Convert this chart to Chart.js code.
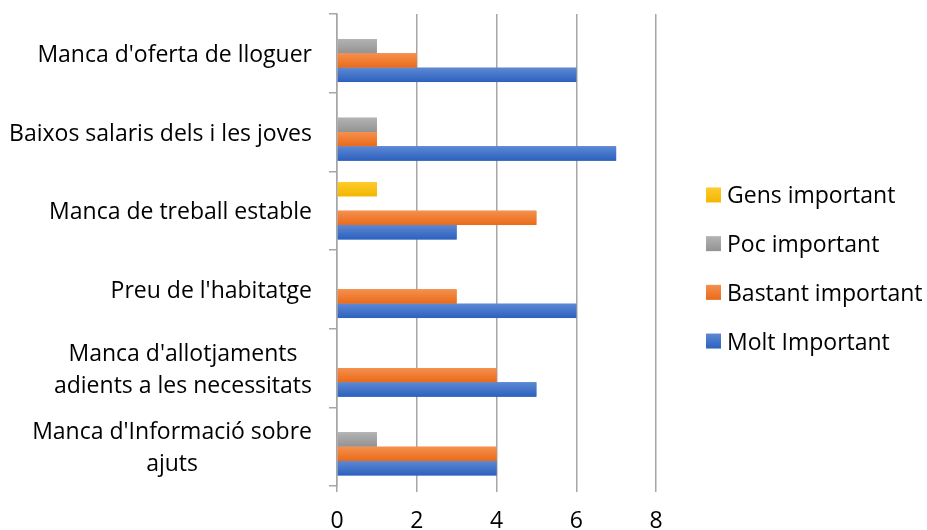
<!DOCTYPE html>
<html>
<head>
<meta charset="utf-8">
<script src="https://cdn.jsdelivr.net/npm/chart.js@4"></script>
<style>
  html, body { margin: 0; padding: 0; background: #fff; }
  #grafico { width: 927px; height: 530px; }
</style>
</head>
<body>
<div id="grafico"><canvas id="grafico_motius"></canvas></div>
<script>
const categories = [
    "Manca d'oferta de lloguer",
    "Baixos salaris dels i les joves",
    "Manca de treball estable",
    "Preu de l'habitatge",
    ["Manca d'allotjaments", "adients a les necessitats"],
    ["Manca d'Informació sobre", "ajuts"]
]
const gensImportant = [0, 0, 1, 0, 0, 0]
const pocImportant = [1, 1, 0, 0, 0, 1]
const bastantImportant = [2, 1, 5, 3, 4, 4]
const moltImportant = [6, 7, 3, 6, 5, 4]
const ticksX = [0, 2, 4, 6, 8]

const font = '"Open Sans"'
const mida = 23

// colors del degradat de cada serie (dalt, baix)
const degradats = [
    ['#FFCB2E', '#F2B700'],
    ['#B3B3B3', '#939393'],
    ['#F5904F', '#EA6A18'],
    ['#5D88D4', '#2C61BE']
]

// pinta el degradat vertical de cada barra
const pluginDegradat = {
    id: 'degradat',
    afterDatasetsDraw(chart) {
        const ctx = chart.ctx
        chart.data.datasets.forEach((ds, i) => {
            const meta = chart.getDatasetMeta(i)
            meta.data.forEach(bar => {
                const { x, y, base, height } = bar.getProps(['x', 'y', 'base', 'height'], true)
                if (x - base < 0.5) return
                const g = ctx.createLinearGradient(0, y - height / 2, 0, y + height / 2)
                g.addColorStop(0, degradats[i][0])
                g.addColorStop(1, degradats[i][1])
                ctx.save()
                ctx.fillStyle = g
                ctx.fillRect(base, y - height / 2, x - base, height)
                ctx.restore()
            })
        })
    }
}

// etiquetes de categoria: bloc alineat a la dreta, linies centrades entre elles
const pluginEtiquetes = {
    id: 'etiquetes',
    afterDraw(chart) {
        const ctx = chart.ctx
        const escala = chart.scales.y
        const dreta = chart.chartArea.left - 25
        const interlinia = 32
        ctx.save()
        ctx.font = `${mida}px ${font}`
        ctx.fillStyle = '#000'
        ctx.textAlign = 'center'
        ctx.textBaseline = 'middle'
        chart.data.labels.forEach((label, i) => {
            const linies = Array.isArray(label) ? label : [label]
            const ample = Math.max(...linies.map(l => ctx.measureText(l).width))
            const yc = escala.getPixelForValue(i) + 2
            linies.forEach((l, j) => {
                ctx.fillText(l, dreta - ample / 2, yc + (j - (linies.length - 1) / 2) * interlinia)
            })
        })
        ctx.restore()
    }
}

// llegenda a la dreta
const pluginLlegenda = {
    id: 'llegenda',
    afterDraw(chart) {
        const ctx = chart.ctx
        const x0 = chart.chartArea.right + 50
        const mig = chart.height / 2 + 3
        const pas = 48.7
        const n = chart.data.datasets.length
        ctx.save()
        ctx.font = `${mida}px ${font}`
        ctx.textBaseline = 'middle'
        chart.data.datasets.forEach((ds, i) => {
            const yc = mig + (i - (n - 1) / 2) * pas
            const g = ctx.createLinearGradient(0, yc - 7.5, 0, yc + 7.5)
            g.addColorStop(0, degradats[i][0])
            g.addColorStop(1, degradats[i][1])
            ctx.fillStyle = g
            ctx.fillRect(x0, yc - 7.5, 15, 15)
            ctx.fillStyle = '#000'
            ctx.fillText(ds.label, x0 + 21, yc + 2)
        })
        ctx.restore()
    }
}

let graficoMotius = new Chart(
    document.getElementById('grafico_motius'),
    {
        type: 'bar',
        data: {
            labels: categories,
            datasets: [
                { label: 'Gens important', data: gensImportant, backgroundColor: '#FFC000' },
                { label: 'Poc important', data: pocImportant, backgroundColor: '#A5A5A5' },
                { label: 'Bastant important', data: bastantImportant, backgroundColor: '#ED7D31' },
                { label: 'Molt Important', data: moltImportant, backgroundColor: '#4472C4' }
            ]
        },
        options: {
            indexAxis: 'y',
            responsive: true,
            maintainAspectRatio: false,
            animation: false,
            categoryPercentage: 0.73,
            barPercentage: 1,
            layout: {
                padding: { top: 14, right: 271, left: 0, bottom: 0 }
            },
            scales: {
                x: {
                    min: 0,
                    max: 8,
                    afterBuildTicks: scale => {
                        scale.ticks = ticksX.map(v => ({ value: v }))
                    },
                    afterFit: scale => {
                        scale.height = 44
                    },
                    border: { display: false },
                    grid: {
                        color: '#A6A6A6',
                        lineWidth: 1.5,
                        drawTicks: true,
                        tickLength: 6
                    },
                    ticks: {
                        color: '#000',
                        padding: 16,
                        font: { family: font, size: mida }
                    }
                },
                y: {
                    afterFit: scale => {
                        scale.width = 337
                    },
                    border: { display: true, color: '#A6A6A6', width: 1.5 },
                    grid: {
                        offset: true,
                        drawOnChartArea: false,
                        drawTicks: true,
                        tickLength: 8,
                        color: '#A6A6A6',
                        lineWidth: 1.5
                    },
                    ticks: { display: false }
                }
            },
            plugins: {
                legend: { display: false },
                tooltip: { enabled: false }
            }
        },
        plugins: [pluginDegradat, pluginEtiquetes, pluginLlegenda]
    }
)
</script>
</body>
</html>
